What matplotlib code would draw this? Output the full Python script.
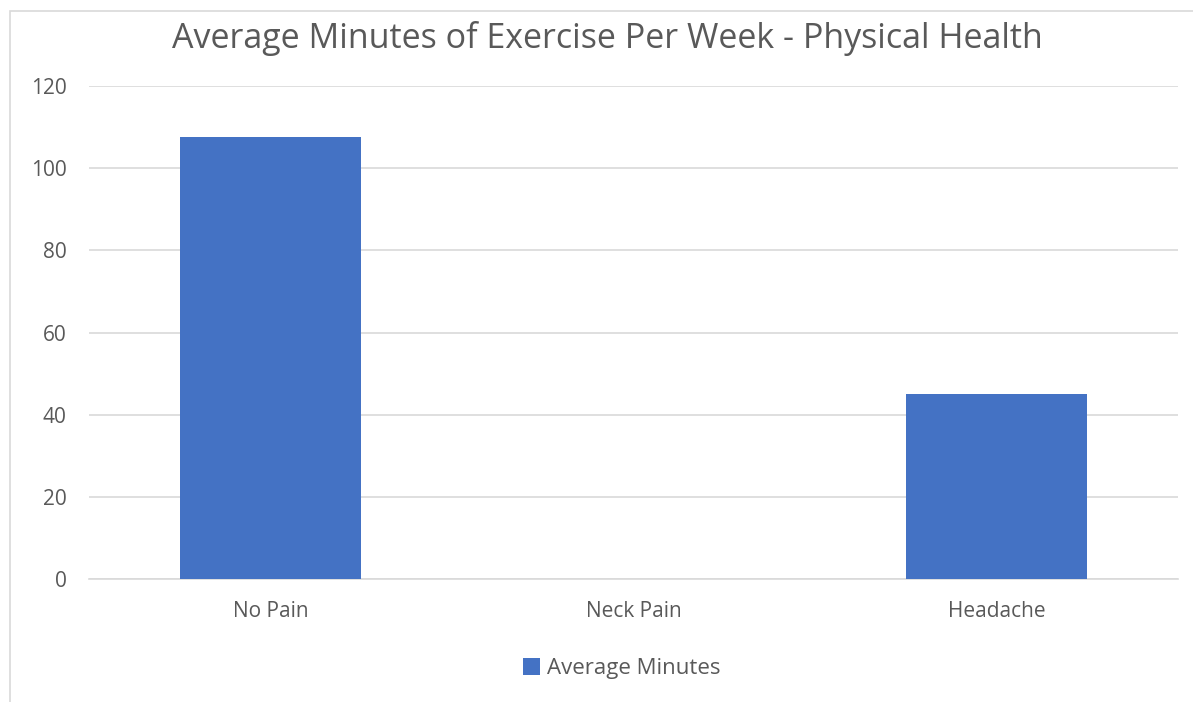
import matplotlib.pyplot as plt
from matplotlib.patches import Rectangle

categories = ["No Pain", "Neck Pain", "Headache"]
avg_minutes = [107.5, 0, 45]
y_ticks = [0, 20, 40, 60, 80, 100, 120]

plt.rcParams["font.family"] = ["Open Sans", "DejaVu Sans"]
text_color = "#595959"

fig = plt.figure(figsize=(11.93, 7.02), dpi=100)
ax = fig.add_axes([0.0746, 0.1752, 0.9128, 0.7023])

x = list(range(len(categories)))
ax.bar(x, avg_minutes, width=0.5, color="#4472C4", label="Average Minutes", zorder=3)

ax.set_xlim(-0.5, len(categories) - 0.5)
ax.set_ylim(0, 120)
ax.set_yticks(y_ticks)
ax.set_xticks(x)
ax.set_xticklabels(categories)
ax.tick_params(axis="both", length=0, labelsize=15, colors=text_color)
ax.tick_params(axis="y", pad=16)
ax.tick_params(axis="x", pad=16)
ax.grid(axis="y", color="#D9D9D9", linewidth=1.2, zorder=0)
for s in ["top", "right", "left"]:
    ax.spines[s].set_visible(False)
ax.spines["bottom"].set_color("#D9D9D9")
ax.spines["bottom"].set_linewidth(1.2)

fig.text(0.509, 0.945, "Average Minutes of Exercise Per Week - Physical Health",
         ha="center", va="center", fontsize=24.5, color=text_color)

fig.legend(loc="center", bbox_to_anchor=(0.521, 0.048), frameon=False,
           fontsize=16, labelcolor=text_color, handlelength=0.8,
           handleheight=0.8, handletextpad=0.3)

# outer chart border
fig.patches.append(Rectangle((10 / 1193, -0.01), 1.1, 1 - 11 / 702 + 0.01,
                             transform=fig.transFigure, fill=False,
                             edgecolor="#D9D9D9", linewidth=1.2))

fig.savefig("out.png", dpi=100)
